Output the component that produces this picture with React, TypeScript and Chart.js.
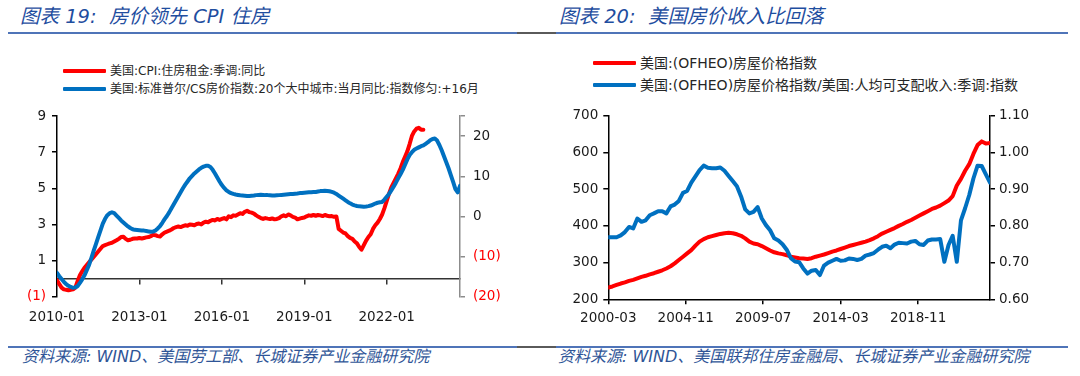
import React, { useEffect, useRef } from "react";
import { Chart, registerables } from "chart.js";

Chart.register(...registerables);

// ---------- shared styles ----------
const RED = "#ff0000";
const BLUE = "#0070c0";
const TEXT = "#1a1a1a";
const FONT_FAMILY = "'DejaVu Sans', 'Noto Sans CJK SC', sans-serif";
const TICK_FONT = { family: FONT_FAMILY, size: 13.5 };

// ---------- Figure 19 data ----------
const leftTitle = "图表 19:  房价领先 CPI 住房";
const leftLegend = [
  "美国:CPI:住房租金:季调:同比",
  "美国:标准普尔/CS房价指数:20个大中城市:当月同比:指数修匀:+16月",
];
const leftSource = "资料来源: WIND、美国劳工部、长城证券产业金融研究院";
const leftStart = { year: 2010, month: 1 };
// monthly, 2010-01 .. 2023-05 (left axis, %)
const cpiRentYoY = [
  -0.1, -0.3, -0.5, -0.6, -0.62, -0.65, -0.62, -0.6, -0.5, -0.15, 0.18, 0.4,
  0.6, 0.75, 0.9, 1.05, 1.2, 1.35, 1.5, 1.65, 1.8, 1.85, 1.9, 1.95,
  1.98, 2.05, 2.12, 2.2, 2.3, 2.32, 2.2, 2.12, 2.15, 2.2, 2.22, 2.22,
  2.25, 2.22, 2.25, 2.28, 2.3, 2.35, 2.42, 2.4, 2.35, 2.33, 2.45, 2.55,
  2.6, 2.65, 2.72, 2.8, 2.85, 2.88, 2.85, 2.9, 2.95, 2.93, 3.0, 2.98,
  2.95, 3.02, 3.05, 3.0, 3.1, 3.15, 3.12, 3.2, 3.25, 3.22, 3.3, 3.25,
  3.3, 3.35, 3.28, 3.45, 3.4, 3.5, 3.48, 3.55, 3.62, 3.58, 3.7, 3.75,
  3.68, 3.65, 3.6, 3.5, 3.42, 3.35, 3.3, 3.35, 3.32, 3.3, 3.33, 3.28,
  3.3, 3.35, 3.45, 3.5, 3.45, 3.55, 3.5, 3.42, 3.38, 3.28, 3.32, 3.36,
  3.38, 3.45, 3.5, 3.48, 3.52, 3.48, 3.52, 3.5, 3.46, 3.52, 3.48, 3.45,
  3.46, 3.42, 3.44, 2.75, 2.65, 2.55, 2.5, 2.35, 2.25, 2.2, 2.05, 1.95,
  1.75, 1.6, 1.85, 2.1, 2.3, 2.45, 2.75, 2.95, 3.1, 3.3, 3.55, 3.9,
  4.3, 4.7, 5.05, 5.3, 5.55, 5.8, 6.1, 6.45, 6.75, 7.05, 7.45, 7.9,
  8.15, 8.3, 8.35, 8.25, 8.25,
];
// monthly, 2010-01 .. 2024-09 (right axis, %), shifted +16 months
const csHpiYoYLead16 = [
  -14.1, -14.9, -15.6, -16.3, -16.9, -17.3, -17.6, -17.8, -17.7, -17.4, -16.6, -15.7,
  -14.7, -13.4, -12.1, -10.4, -8.6, -6.9, -5.2, -3.5, -1.8, -0.6, 0.3, 0.8,
  1.0, 0.8, 0.2, -0.4, -1.0, -1.5, -2.0, -2.5, -2.9, -3.2, -3.35, -3.4,
  -3.45, -3.5, -3.55, -3.65, -3.75, -3.85, -3.8, -3.5, -3.0, -2.4, -1.6, -0.7,
  0.1, 1.0, 2.0, 3.0, 4.0, 5.0, 6.0, 7.0, 7.9, 8.7, 9.5, 10.1,
  10.7, 11.2, 11.7, 12.1, 12.4, 12.6, 12.6, 12.3, 11.6, 10.7, 9.7, 8.7,
  7.8, 7.1, 6.5, 6.1, 5.8, 5.6, 5.45, 5.35, 5.25, 5.2, 5.15, 5.1,
  5.1, 5.15, 5.2, 5.3, 5.35, 5.4, 5.35, 5.3, 5.3, 5.25, 5.2, 5.2,
  5.25, 5.3, 5.35, 5.4, 5.45, 5.5, 5.55, 5.6, 5.65, 5.7, 5.8, 5.85,
  5.9, 5.95, 6.0, 6.0, 6.05, 6.1, 6.2, 6.3, 6.35, 6.4, 6.35, 6.25,
  6.1, 5.9, 5.6, 5.2, 4.8, 4.4, 4.0, 3.6, 3.25, 2.95, 2.75, 2.6,
  2.5, 2.45, 2.4, 2.45, 2.55, 2.7, 2.95, 3.2, 3.4, 3.5, 3.6, 4.2,
  4.9, 5.6, 6.5, 7.4, 8.4, 9.5, 10.5, 11.6, 12.9, 14.2, 15.3, 16.0,
  16.6, 16.9, 17.2, 17.5, 17.7, 18.1, 18.5, 19.0, 19.3, 19.4, 18.9, 17.8,
  16.5, 15.0, 13.5, 12.0, 10.3, 8.6, 6.8, 6.0, 7.6,
];
const leftXMax = 176;
const leftXTicks = [0, 36, 72, 108, 144];
const leftYTicks = [-1, 1, 3, 5, 7, 9];
const leftY2Ticks = [-20, -10, 0, 10, 20, 25];
const leftY2Unlabeled = [25];

// ---------- Figure 20 data ----------
const rightTitle = "图表 20:  美国房价收入比回落";
const rightLegend = [
  "美国:(OFHEO)房屋价格指数",
  "美国:(OFHEO)房屋价格指数/美国:人均可支配收入:季调:指数",
];
const rightSource = "资料来源: WIND、美国联邦住房金融局、长城证券产业金融研究院";
const rightStart = { year: 2000, month: 3 };
const monthsPerPoint = 3; // quarterly, 2000-03 .. 2023-03
const ofheoHpi = [
  232, 235, 239, 243,
  246, 250, 253, 257,
  261, 264, 268, 271,
  275, 279, 284, 290,
  298, 307, 316, 325,
  334, 346, 357, 364,
  369, 372, 375, 378,
  380, 381, 380, 377,
  373, 366, 357, 352,
  350, 345, 339, 333,
  328, 325, 323, 320,
  316, 314, 312, 311,
  310, 312, 316, 319,
  322, 326, 330, 333,
  337, 341, 345, 348,
  351, 354, 357, 361,
  366, 372, 379, 384,
  389, 394, 400, 405,
  411, 416, 422, 428,
  434, 440, 446, 450,
  455, 462, 469, 481,
  510, 528, 550, 568,
  596, 620, 630, 624,
  626,
];
const hpiIncomeRatio = [
  0.769, 0.769, 0.769, 0.774,
  0.783, 0.797, 0.793, 0.820,
  0.811, 0.815, 0.829, 0.834,
  0.840, 0.840, 0.834, 0.853,
  0.858, 0.868, 0.890, 0.895,
  0.918, 0.935, 0.952, 0.964,
  0.958, 0.957, 0.957, 0.959,
  0.950, 0.936, 0.922, 0.908,
  0.880, 0.845, 0.834, 0.838,
  0.851, 0.820, 0.802, 0.788,
  0.766, 0.760, 0.750, 0.735,
  0.712, 0.703, 0.701, 0.684,
  0.670, 0.678, 0.680, 0.666,
  0.692, 0.700, 0.705, 0.710,
  0.705, 0.706, 0.711, 0.710,
  0.707, 0.710, 0.719, 0.722,
  0.726, 0.735, 0.743, 0.746,
  0.739, 0.749, 0.754, 0.753,
  0.752, 0.757, 0.759, 0.750,
  0.748, 0.760, 0.763, 0.763,
  0.764, 0.702, 0.748, 0.773,
  0.702, 0.815, 0.848, 0.884,
  0.929, 0.964, 0.963, 0.940,
  0.918,
];
const rightXMax = 276;
const rightXTicks = [0, 56, 112, 168, 224];
const rightYTicks = [200, 300, 400, 500, 600, 700];
const rightY2Ticks = [0.6, 0.7, 0.8, 0.9, 1.0, 1.1];

// ---------- helpers ----------
const monthLabel = (start: { year: number; month: number }, offset: number) => {
  const t = start.year * 12 + (start.month - 1) + Math.round(offset);
  return `${Math.floor(t / 12)}-${String((t % 12) + 1).padStart(2, "0")}`;
};
const fixedTicks = (values: number[]) => (scale: any) => {
  scale.ticks = values.map((v) => ({ value: v }));
};
const paren = (v: number) => (v < 0 ? `(${Math.abs(v)})` : `${v}`);

const lineDataset = (label: string, data: any[], color: string, yAxisID: string, order: number) => ({
  label,
  data,
  borderColor: color,
  backgroundColor: color,
  borderWidth: 4,
  pointRadius: 0,
  tension: 0,
  borderJoinStyle: "round",
  borderCapStyle: "round",
  yAxisID,
  xAxisID: "x",
  order,
});

function buildLeftConfig(): any {
  return {
    type: "line",
    data: {
      datasets: [
        lineDataset(leftLegend[0], cpiRentYoY.map((v, i) => ({ x: i, y: v })), RED, "y", 1),
        lineDataset(leftLegend[1], csHpiYoYLead16.map((v, i) => ({ x: i, y: v })), BLUE, "y1", 0),
      ],
    },
    options: {
      animation: false,
      responsive: false,
      devicePixelRatio: 1,
      layout: { padding: { top: 10, left: 0, right: 0, bottom: 0 } },
      plugins: { legend: { display: false }, tooltip: { enabled: false } },
      scales: {
        x: {
          type: "linear",
          min: 0,
          max: leftXMax,
          position: { y: 0 },
          afterBuildTicks: fixedTicks(leftXTicks),
          ticks: { display: false },
          grid: { drawOnChartArea: false, drawTicks: true, tickLength: 5, tickColor: "#333", lineWidth: 1.5 },
          border: { display: true, color: "#333", width: 1.5 },
        },
        x2: {
          type: "linear",
          min: 0,
          max: leftXMax,
          position: "bottom",
          afterBuildTicks: fixedTicks(leftXTicks),
          ticks: {
            callback: (v: number) => monthLabel(leftStart, v),
            font: TICK_FONT,
            color: TEXT,
            padding: 13,
            maxRotation: 0,
            autoSkip: false,
          },
          grid: { display: false, drawTicks: false },
          border: { display: false },
          afterFit: (s: any) => {
            s.height = 39.4;
          },
        },
        y: {
          position: "left",
          min: -1,
          max: 9,
          afterBuildTicks: fixedTicks(leftYTicks),
          ticks: {
            callback: (v: number) => paren(v),
            color: (c: any) => (c.tick && c.tick.value < 0 ? RED : TEXT),
            font: TICK_FONT,
            padding: 6,
          },
          grid: { drawOnChartArea: false, drawTicks: true, tickLength: 5, tickColor: "#000", lineWidth: 1.5 },
          border: { display: true, color: "#000", width: 1.5 },
          afterFit: (s: any) => {
            s.width = 57;
          },
        },
        y1: {
          position: "right",
          min: -20,
          max: 25,
          afterBuildTicks: fixedTicks(leftY2Ticks),
          ticks: {
            callback: (v: number) => (leftY2Unlabeled.includes(v) ? "" : paren(v)),
            color: (c: any) => (c.tick && c.tick.value < 0 ? RED : TEXT),
            font: TICK_FONT,
            padding: 8,
          },
          grid: { drawOnChartArea: false, drawTicks: true, tickLength: 5, tickColor: "#8c8c8c", lineWidth: 1.5 },
          border: { display: true, color: "#8c8c8c", width: 1.5 },
          afterFit: (s: any) => {
            s.width = 80;
          },
        },
      },
    },
  };
}

function buildRightConfig(): any {
  return {
    type: "line",
    data: {
      datasets: [
        lineDataset(rightLegend[0], ofheoHpi.map((v, i) => ({ x: i * monthsPerPoint, y: v })), RED, "y", 1),
        lineDataset(rightLegend[1], hpiIncomeRatio.map((v, i) => ({ x: i * monthsPerPoint, y: v })), BLUE, "y1", 0),
      ],
    },
    options: {
      animation: false,
      responsive: false,
      devicePixelRatio: 1,
      layout: { padding: { top: 15.7, left: 0, right: 0, bottom: 0 } },
      plugins: { legend: { display: false }, tooltip: { enabled: false } },
      scales: {
        x: {
          type: "linear",
          min: 0,
          max: rightXMax,
          position: "bottom",
          afterBuildTicks: fixedTicks(rightXTicks),
          ticks: {
            callback: (v: number) => monthLabel(rightStart, v),
            font: TICK_FONT,
            color: TEXT,
            padding: 6,
            maxRotation: 0,
            autoSkip: false,
          },
          grid: { drawOnChartArea: false, drawTicks: true, tickLength: 5, tickColor: "#000", lineWidth: 1.5 },
          border: { display: true, color: "#000", width: 1.5 },
          afterFit: (s: any) => {
            s.height = 36.7;
          },
        },
        y: {
          position: "left",
          min: 200,
          max: 700,
          afterBuildTicks: fixedTicks(rightYTicks),
          ticks: { font: TICK_FONT, color: TEXT, padding: 5 },
          grid: { drawOnChartArea: false, drawTicks: true, tickLength: 5, tickColor: "#000", lineWidth: 1.5 },
          border: { display: true, color: "#000", width: 1.5 },
          afterFit: (s: any) => {
            s.width = 68.3;
          },
        },
        y1: {
          position: "right",
          min: 0.6,
          max: 1.1,
          afterBuildTicks: fixedTicks(rightY2Ticks),
          ticks: { callback: (v: number) => v.toFixed(2), font: TICK_FONT, color: TEXT, padding: 4 },
          grid: { drawOnChartArea: false, drawTicks: true, tickLength: 5, tickColor: "#000", lineWidth: 1.5 },
          border: { display: true, color: "#000", width: 1.5 },
          afterFit: (s: any) => {
            s.width = 90;
          },
        },
      },
    },
  };
}

function ChartCanvas({ build, left, top, width, height }: any) {
  const ref = useRef<HTMLCanvasElement | null>(null);
  useEffect(() => {
    if (!ref.current) return;
    const chart = new Chart(ref.current, build());
    return () => chart.destroy();
  }, [build]);
  return (
    <canvas
      ref={ref}
      width={width}
      height={height}
      style={{ position: "absolute", left, top, width, height }}
    />
  );
}

function Legend({ items, colors, left, tops, swatchW, gap, fontSize }: any) {
  return (
    <>
      {items.map((t: string, i: number) => (
        <div
          key={i}
          style={{
            position: "absolute",
            left,
            top: tops[i] - 10,
            height: 20,
            display: "flex",
            alignItems: "center",
            whiteSpace: "nowrap",
          }}
        >
          <div style={{ width: swatchW, height: 4, background: colors[i], borderRadius: 1 }} />
          <span style={{ marginLeft: gap, fontSize, color: "#262626", fontFamily: FONT_FAMILY, lineHeight: "20px" }}>{t}</span>
        </div>
      ))}
    </>
  );
}

function Rule({ top, segments }: any) {
  return (
    <>
      {segments.map((s: any, i: number) => (
        <div
          key={i}
          style={{ position: "absolute", left: s[0], top, width: s[1] - s[0], height: 2, background: s[2] }}
        />
      ))}
    </>
  );
}

const RULE_BLUE = "#4f74b8";
const RULE_GRAY = "#5a5a5a";
const ruleSegments = [
  [8, 517, RULE_BLUE],
  [517, 556, RULE_GRAY],
  [556, 1068, RULE_BLUE],
];

const titleStyle: any = {
  position: "absolute",
  top: 5,
  fontSize: 19.5,
  lineHeight: "24px",
  fontStyle: "italic",
  color: "#1f4e9f",
  fontFamily: FONT_FAMILY,
  whiteSpace: "pre",
};
const sourceStyle: any = {
  position: "absolute",
  top: 347,
  fontSize: 16,
  lineHeight: "20px",
  fontStyle: "italic",
  color: "#2f5597",
  fontFamily: FONT_FAMILY,
  whiteSpace: "pre",
};

export default function App() {
  useEffect(() => {
    document.body.style.margin = "0";
  }, []);
  return (
    <div
      style={{
        position: "absolute",
        left: 0,
        top: 0,
        width: 1080,
        height: 376,
        background: "#ffffff",
        overflow: "hidden",
      }}
    >
      <div style={{ ...titleStyle, left: 20 }}>{leftTitle}</div>
      <div style={{ ...titleStyle, left: 559 }}>{rightTitle}</div>
      <Rule top={32} segments={ruleSegments} />

      <Legend items={leftLegend} colors={[RED, BLUE]} left={63} tops={[71, 89.3]} swatchW={43} gap={4} fontSize={12} />
      <Legend items={rightLegend} colors={[RED, BLUE]} left={593} tops={[63.3, 85]} swatchW={43} gap={4} fontSize={14} />

      <ChartCanvas build={buildLeftConfig} left={0} top={100} width={540} height={236} />
      <ChartCanvas build={buildRightConfig} left={540} top={100} width={540} height={236} />

      <Rule top={346} segments={ruleSegments} />
      <div style={{ ...sourceStyle, left: 22 }}>{leftSource}</div>
      <div style={{ ...sourceStyle, left: 558 }}>{rightSource}</div>
    </div>
  );
}
